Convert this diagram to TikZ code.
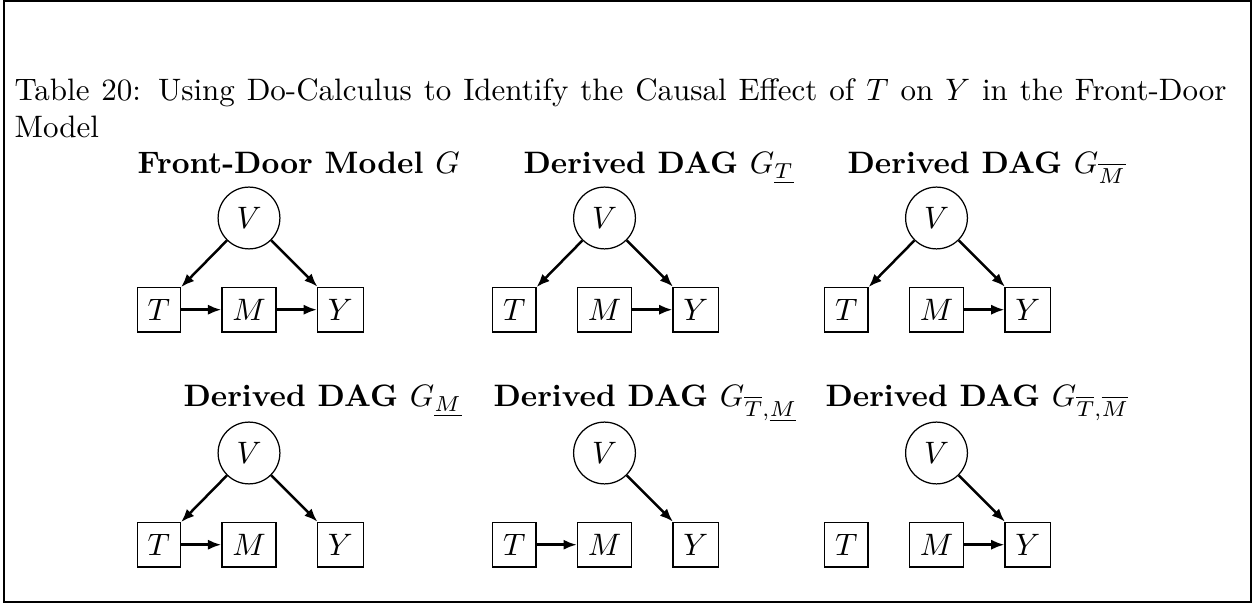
\documentclass[tikz,border=0pt]{standalone}
\usepackage{amsmath}
\usepackage{amssymb}
\usetikzlibrary{arrows.meta, positioning}

\begin{document}
\begin{tikzpicture}[x=0.3226pt, y=-0.3226pt,
    node distance=12pt and 13pt,
    var/.style={draw, circle},
    obs/.style={draw, rectangle, inner ysep=3.8pt},
    heading/.style={anchor=base west, inner sep=0pt, font=\bfseries},
    arrow/.style={draw, thick, -{Latex[length=4.3pt, width=3.3pt]}}
]
    \useasboundingbox (0,0) rectangle (1254,604);
    \draw[line width=0.7pt] (4,1) rectangle (1251,602);

    \node[anchor=north west, inner sep=0pt, text width=391pt, align=justify] (caption) at (14,78)
        {Table 20: Using Do-Calculus to Identify the Causal Effect of $T$ on $Y$ in the Front-Door Model};

    % row 1
    \node[heading] (head1) at (137,174) {Front-Door Model $G$};
    \node[var] (v1) at (249,218) {$V$};
    \node[obs, below=of v1] (m1) {$M$};
    \node[obs, left=of m1] (t1) {$T$};
    \node[obs, right=of m1] (y1) {$Y$};
    \draw[arrow] (v1) -- (t1);
    \draw[arrow] (v1) -- (y1);
    \draw[arrow] (t1) -- (m1);
    \draw[arrow] (m1) -- (y1);

    \node[heading] (head2) at (523,174) {Derived DAG $G_{\underline{T}}$};
    \node[var] (v2) at (604.5,218) {$V$};
    \node[obs, below=of v2] (m2) {$M$};
    \node[obs, left=of m2] (t2) {$T$};
    \node[obs, right=of m2] (y2) {$Y$};
    \draw[arrow] (v2) -- (t2);
    \draw[arrow] (v2) -- (y2);
    \draw[arrow] (m2) -- (y2);

    \node[heading] (head3) at (847,174) {Derived DAG $G_{\overline{M}}$};
    \node[var] (v3) at (936.5,218) {$V$};
    \node[obs, below=of v3] (m3) {$M$};
    \node[obs, left=of m3] (t3) {$T$};
    \node[obs, right=of m3] (y3) {$Y$};
    \draw[arrow] (v3) -- (t3);
    \draw[arrow] (v3) -- (y3);
    \draw[arrow] (m3) -- (y3);

    % row 2
    \node[heading] (head4) at (183,407) {Derived DAG $G_{\underline{M}}$};
    \node[var] (v4) at (249,453) {$V$};
    \node[obs, below=of v4] (m4) {$M$};
    \node[obs, left=of m4] (t4) {$T$};
    \node[obs, right=of m4] (y4) {$Y$};
    \draw[arrow] (v4) -- (t4);
    \draw[arrow] (v4) -- (y4);
    \draw[arrow] (t4) -- (m4);

    \node[heading] (head5) at (493,407) {Derived DAG $G_{\overline{T},\underline{M}}$};
    \node[var] (v5) at (604.5,453) {$V$};
    \node[obs, below=of v5] (m5) {$M$};
    \node[obs, left=of m5] (t5) {$T$};
    \node[obs, right=of m5] (y5) {$Y$};
    \draw[arrow] (v5) -- (y5);
    \draw[arrow] (t5) -- (m5);

    \node[heading] (head6) at (825,407) {Derived DAG $G_{\overline{T},\overline{M}}$};
    \node[var] (v6) at (936.5,453) {$V$};
    \node[obs, below=of v6] (m6) {$M$};
    \node[obs, left=of m6] (t6) {$T$};
    \node[obs, right=of m6] (y6) {$Y$};
    \draw[arrow] (v6) -- (y6);
    \draw[arrow] (m6) -- (y6);

\end{tikzpicture}
\end{document}
